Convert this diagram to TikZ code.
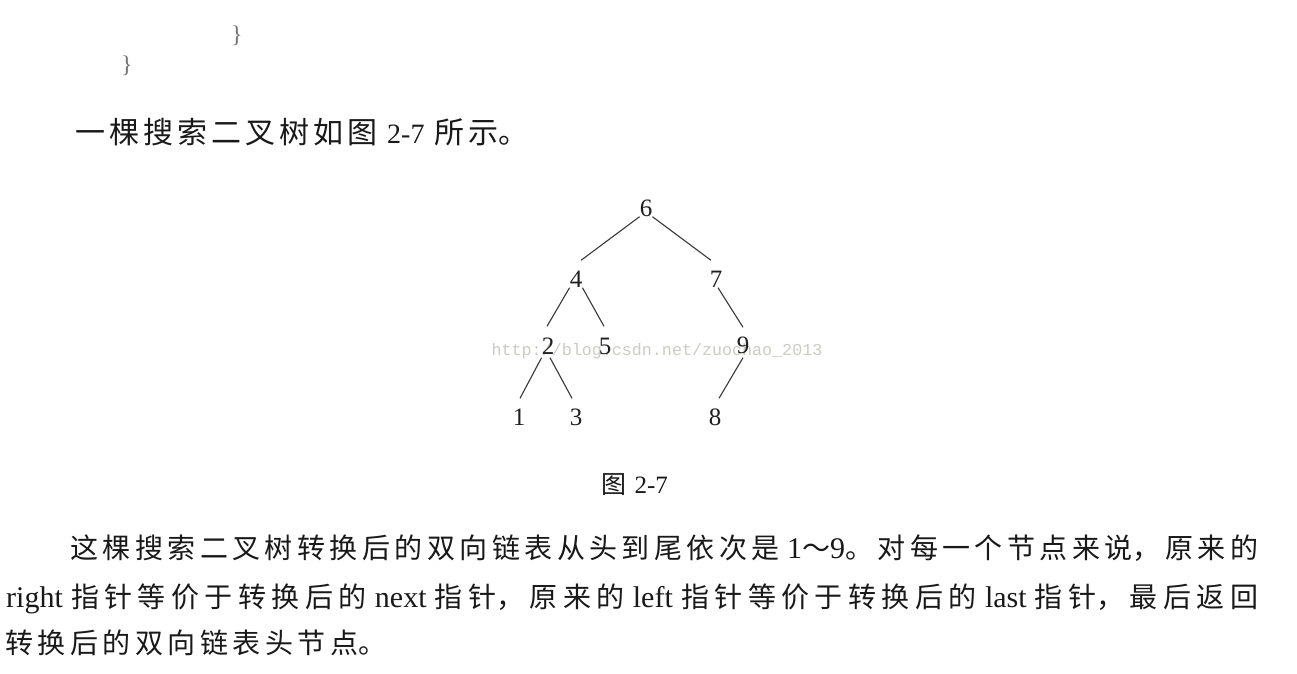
\documentclass[tikz,border=0pt]{standalone}
\usepackage{fontspec}
\setmainfont{Liberation Serif}
\newfontfamily\cjk{Noto Sans CJK SC}
\newfontfamily\wmfont{Liberation Mono}
\XeTeXlinebreaklocale "zh"
\XeTeXlinebreakskip=0pt plus 1pt
\newcommand\en[2][30]{{\rmfamily\fontsize{#1}{#1}\selectfont #2}}

\tikzset{
  tnode/.style={inner sep=0pt, minimum width=12pt, text height=17pt, text depth=0pt,
    text=black!88, font=\fontsize{25}{25}\selectfont},
  tedge/.style={draw=black!78, line width=1.1pt},
  zhline/.style={anchor=base west, inner sep=0pt, text=black!90,
    font=\cjk\fontsize{28}{28}\selectfont,
    execute at begin node={\XeTeXlinebreakskip=3pt plus 4pt minus 1pt}},
  zhjust/.style={zhline, align=justify},
  brace/.style={inner sep=0pt, text=black!55, font=\fontsize{24}{24}\selectfont},
  wmark/.style={anchor=base, inner sep=0pt, text={rgb,255:red,204;green,204;blue,196},
    font=\wmfont\fontsize{16.7}{16.7}\selectfont}
}

\begin{document}
\begin{tikzpicture}[x=1pt, y=-1pt]
        % Page
        \fill[white] (0,0) rectangle (1297,673);
        \useasboundingbox (0,0) rectangle (1297,673);

        % End of the code above
        \node[brace] (br1) at (237,36) {\}};
        \node[brace] (br2) at (127,66) {\}};

        % Intro line
        \node[zhline, text width=600pt, align=left,
          font=\cjk\fontsize{30}{30}\selectfont,
          execute at begin node={\XeTeXlinebreakskip=4pt}]
          (intro) at (75,143) {一棵搜索二叉树如图 \en[28]{2-7} 所示。};

        % Watermark
        \node[wmark] (wm) at (657,355) {http://blog.csdn.net/zuochao\_2013};

        % Tree nodes
        \node[tnode] (n6) at (646,208) {6};
        \node[tnode] (n4) at (576,279) {4};
        \node[tnode] (n7) at (716,279) {7};
        \node[tnode] (n2) at (548,346) {2};
        \node[tnode] (n5) at (605,346) {5};
        \node[tnode] (n9) at (743,345) {9};
        \node[tnode] (n1) at (519,417) {1};
        \node[tnode] (n3) at (576,417) {3};
        \node[tnode] (n8) at (715,417) {8};

        % Tree edges
        \draw[tedge] (n6.south west) -- ([shift={(5,-10)}]n4.north);
        \draw[tedge] (n6.south east) -- ([shift={(-5,-10)}]n7.north);
        \draw[tedge] (n4.south west) -- ([shift={(-1,-11)}]n2.north);
        \draw[tedge] (n4.south east) -- ([shift={(-1,-11)}]n5.north);
        \draw[tedge] ([xshift=2pt]n7.south) -- ([shift={(0,-9)}]n9.north);
        \draw[tedge] ([yshift=-3pt]n2.south west) -- ([shift={(1,-10)}]n1.north);
        \draw[tedge] ([shift={(2,3)}]n2.south) -- ([shift={(-4,-10)}]n3.north);
        \draw[tedge] ([yshift=-4pt]n9.south) -- ([shift={(4,-10)}]n8.north);

        % Caption
        \node[zhline, text width=200pt, align=left,
          font=\cjk\fontsize{25}{25}\selectfont]
          (cap) at (601,493) {图 \en[25]{2-7}};

        % Text below
        \node[zhjust, text width=1188pt] (para1) at (70,558)
          {\parfillskip=0pt 这棵搜索二叉树转换后的双向链表从头到尾依次是 \en{1}～\en{9}。对每一个节点来说，原来的\par};
        \node[zhjust, text width=1252pt] (para2) at (6,607)
          {\parfillskip=0pt \en{right} 指针等价于转换后的 \en{next} 指针，原来的 \en{left} 指针等价于转换后的 \en{last} 指针，最后返回\par};
        \node[zhline, text width=600pt, align=left,
          execute at begin node={\XeTeXlinebreakskip=4.5pt}]
          (para3) at (5,653) {转换后的双向链表头节点。};
    \end{tikzpicture}
\end{document}
